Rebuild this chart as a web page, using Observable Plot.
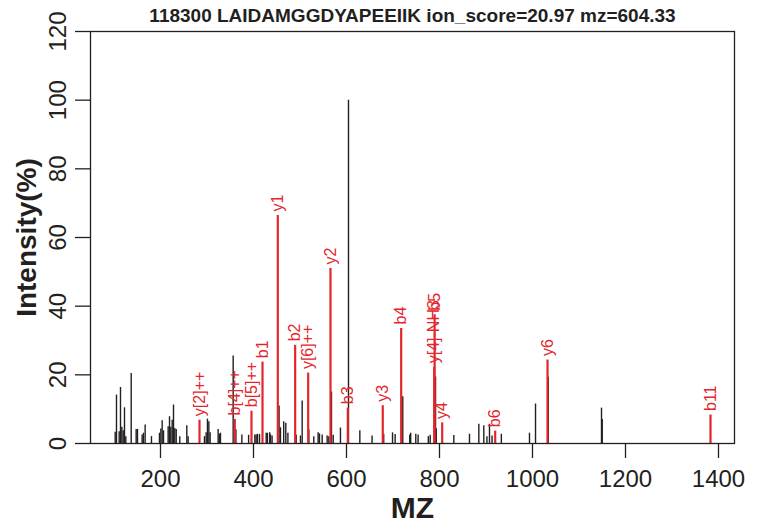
<!DOCTYPE html>
<html>
<head>
<meta charset="utf-8">
<script src="https://cdn.jsdelivr.net/npm/d3@7"></script>
<script src="https://cdn.jsdelivr.net/npm/@observablehq/plot@0.6"></script>
<style>
  html, body { margin: 0; padding: 0; background: #fff; }
</style>
</head>
<body>
<div id="chart"></div>
<script>
// ---- data ----
const titleText = "118300 LAIDAMGGDYAPEEIIK ion_score=20.97 mz=604.33";
const xLabel = "MZ";
const yLabel = "Intensity(%)";
const xTicks = [200, 400, 600, 800, 1000, 1200, 1400];
const yTicks = [0, 20, 40, 60, 80, 100, 120];

// unannotated (black) peaks
const peakMz = [102.6, 105.4, 111.2, 114, 116.9, 119.8, 122.6, 125.5, 137, 147.7, 150.5, 160.6, 163.4, 167, 180.6,
  197.8, 200.8, 203.6, 206.5, 216.5, 219.4, 222.2, 225.2, 228, 230.8, 233.8, 241.5, 256.6, 259.5,
  294.6, 298.2, 301, 304, 306.8, 324, 326.9, 329, 356.3, 362.2, 375, 389.5, 402.9, 405.7, 408.6, 413,
  427.3, 430, 435, 436.6, 440, 455, 458, 465, 469.5, 474, 491.8, 501, 504.7, 519, 529.7, 539, 541.9,
  547.7, 558.4, 562, 567.7, 571.4, 587, 604.3, 628.7, 655, 680, 699, 704.6, 721, 736, 738, 749, 754,
  776, 780, 791.5, 793, 830.8, 864.5, 884.6, 895.3, 902, 907.5, 913, 933, 993.5, 1006.5, 1034, 1148.4, 1150];
const peakInt = [3.3, 14.1, 3.4, 16.3, 4.7, 3.7, 10.4, 2.0, 20.4, 4.1, 4.1, 2.5, 3.0, 5.4, 2.0,
  3.0, 4.2, 6.6, 3.7, 4.9, 7.8, 4.7, 6.8, 11.2, 4.4, 4.1, 2.0, 5.2, 2.0,
  2.0, 3.1, 7.1, 6.3, 3.1, 4.1, 2.7, 3.0, 25.5, 4.0, 2.5, 2.4, 2.5, 2.5, 2.7, 2.6,
  3.0, 3.0, 3.1, 2.5, 2.2, 10.9, 4.6, 6.3, 5.9, 3.0, 2.5, 2.2, 12.4, 4.0, 2.0, 3.1, 2.8,
  2.5, 2.2, 2.0, 15.0, 2.4, 4.5, 100, 3.7, 2.2, 2.7, 3.1, 2.6, 13.6, 2.5, 3.0, 2.7, 2.5,
  2.0, 2.4, 19.4, 4.3, 2.3, 2.7, 5.6, 5.2, 2.0, 5.6, 2.2, 2.7, 3.0, 11.5, 19.3, 10.3, 7.0];

// annotated (red) fragment ions
const ionMz = [283.9, 359.8, 395.7, 419.4, 452.3, 489.6, 517.6, 565.6, 602.8, 678, 717.6, 788.6, 789.5, 805.8, 919.8, 1032.3, 1382.8];
const ionInt = [6.8, 7.0, 9.4, 23.7, 66.4, 28.6, 20.5, 51.0, 10.3, 11.0, 33.5, 22.2, 37.5, 6.0, 3.6, 24.3, 8.3];
const ionLabel = ["y[2]++", "b[4]++", "b[5]++", "b1", "y1", "b2", "y[6]++", "y2", "b3", "y3", "b4", "y[4]-NH3", "b5", "y4", "b6", "y6", "b11"];

// ---- build tables ----
const peaks = peakMz.map((mz, i) => ({mz, int: peakInt[i]}));
const ions = ionMz.map((mz, i) => ({mz, int: ionInt[i], label: ionLabel[i]}));

const INK = "#231f20";
const RED = "#e3262b";

const chart = Plot.plot({
  width: 760,
  height: 527,
  marginLeft: 90,
  marginRight: 26,
  marginTop: 31,
  marginBottom: 84,
  style: {fontFamily: "'Liberation Sans', Arial, Helvetica, sans-serif", background: "#fff", color: INK},
  x: {domain: [49.5, 1434.4], axis: null},
  y: {domain: [0, 120], axis: null},
  marks: [
    Plot.ruleX(peaks, {x: "mz", y1: 0, y2: "int", stroke: INK, strokeWidth: 1.4}),
    Plot.ruleX(ions, {x: "mz", y1: 0, y2: "int", stroke: RED, strokeWidth: 2.2}),
    Plot.text(ions, {x: "mz", y: "int", text: "label", rotate: -90, textAnchor: "start", lineAnchor: "middle",
      dy: -4, fill: RED, fontSize: 16}),
    Plot.frame({stroke: INK, strokeWidth: 1.3}),
    Plot.axisX(xTicks, {anchor: "bottom", tickSize: 15, tickPadding: 11, fontSize: 24, label: null,
      tickFormat: d => String(d), stroke: INK, strokeWidth: 1.3, fill: INK}),
    Plot.axisY(yTicks, {anchor: "left", tickSize: 15, tickPadding: 10, tickRotate: -90, fontSize: 24, label: null,
      tickFormat: d => String(d), stroke: INK, strokeWidth: 1.3, fill: INK}),
    Plot.text([titleText], {frameAnchor: "top", text: d => d, dy: -10, lineAnchor: "bottom",
      fontWeight: "bold", fontSize: 19, fill: INK}),
    Plot.text([xLabel], {frameAnchor: "bottom", text: d => d, dy: 74, lineAnchor: "bottom",
      fontWeight: "bold", fontSize: 30, fill: INK}),
    Plot.text([yLabel], {frameAnchor: "left", text: d => d, dx: -55, rotate: -90, textAnchor: "middle", lineAnchor: "bottom",
      fontWeight: "bold", fontSize: 28, fill: INK})
  ]
});
document.getElementById("chart").appendChild(chart);
</script>
</body>
</html>
